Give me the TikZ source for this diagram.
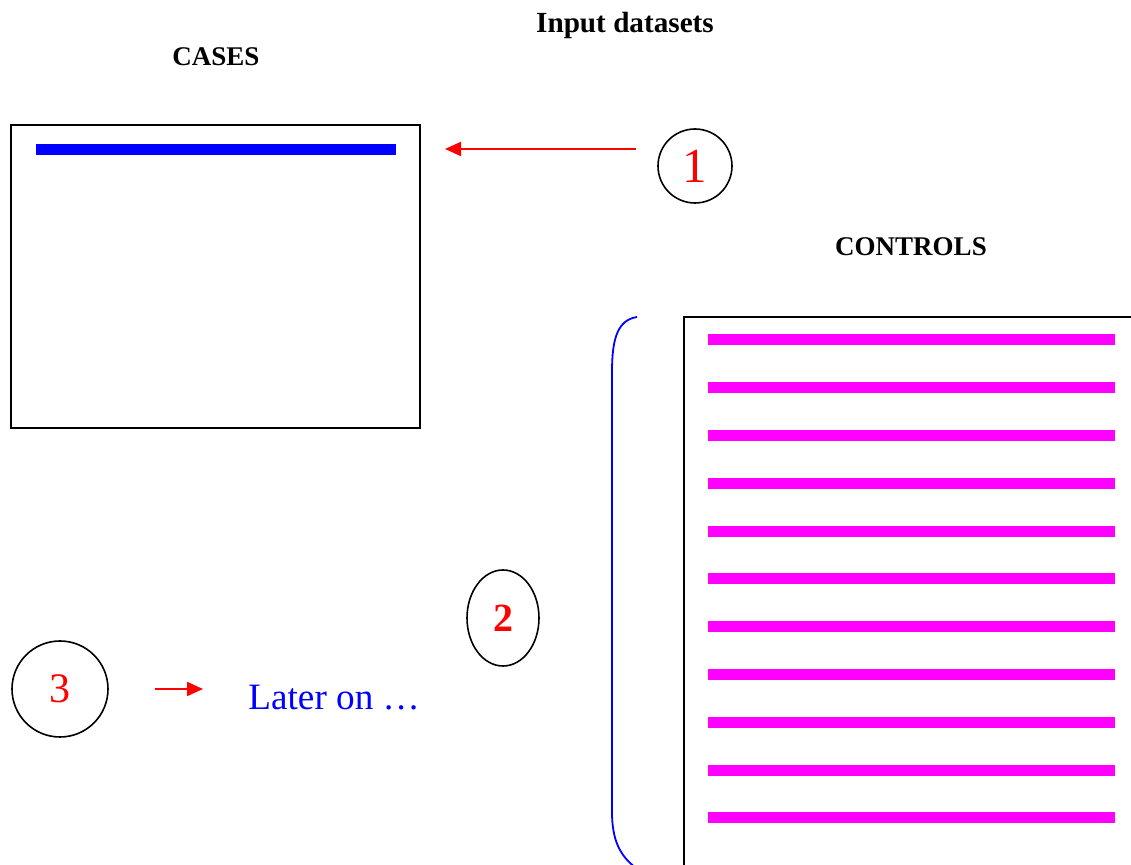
\documentclass[tikz,border=0pt]{standalone}
\usepackage{fontspec}
\setmainfont{Liberation Serif}
\usetikzlibrary{arrows.meta,shapes.geometric}
\definecolor{barmag}{RGB}{255,0,255}
\definecolor{barblue}{RGB}{0,0,255}
\tikzset{
  redarrow/.style={red,line width=1pt,-{Triangle[length=8pt,width=7pt]}},
  numcirc/.style={draw,circle,line width=0.8pt,inner sep=0pt},
  titletext/.style={font=\fontsize{13.5}{15}\selectfont\bfseries},
  cbar/.style={barmag,line width=5.5pt},
}
\begin{document}
\begin{tikzpicture}[x=0.5pt,y=-0.5pt]
  \useasboundingbox (0,0) rectangle (1131,865);
  \node[titletext,font=\fontsize{14.6}{16}\selectfont\bfseries] (input) at (625,25) {Input datasets};
  \node[titletext] (cases) at (216,57) {CASES};
  \node[titletext] (controls) at (911,247) {CONTROLS};
  % cases dataset
  \draw[line width=0.8pt] (11,125) rectangle (420,428);
  \draw[barblue,line width=5.5pt] (36,149.5) -- (396,149.5);
  % controls dataset
  \draw[line width=0.8pt] (1140,317) -- (684,317) -- (684,880);
  \foreach \i in {0,...,10}
    \draw[cbar] (708,340+47.8*\i) -- (1115,340+47.8*\i);
  \draw[barblue,line width=0.9pt] (637,317) .. controls (617,320) and (612,340) .. (612,372)
    -- (612,812) .. controls (612,840) and (620,856) .. (636,868);
  % numbers
  \node[numcirc,minimum size=37pt,text=red,
    font=\fontsize{24.5}{26}\selectfont] (one) at (695,166) {1};
  \node[draw,ellipse,line width=0.8pt,inner sep=0pt,minimum width=36pt,minimum height=48pt,
    text=red,font=\fontsize{20}{22}\selectfont\bfseries] (two) at (503,618) {2};
  \node[numcirc,minimum size=48pt,text=red,
    font=\fontsize{21}{23}\selectfont] (three) at (60,689) {3};
  \coordinate (oneA) at (636,149);
  \coordinate (oneB) at (445,149);
  \draw[redarrow] (oneA) -- (oneB);
  \coordinate (threeA) at (155,689);
  \coordinate (threeB) at (203,689);
  \draw[redarrow] (threeA) -- (threeB);
  \node[anchor=west,text=barblue,font=\fontsize{18.6}{21}\selectfont,inner sep=0pt] (later) at (248,698) {Later on …};
\end{tikzpicture}
\end{document}
